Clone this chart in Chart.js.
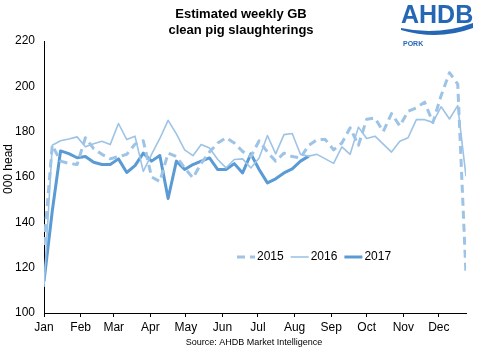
<!DOCTYPE html>
<html>
<head>
<meta charset="utf-8">
<script src="https://cdn.jsdelivr.net/npm/chart.js@4.4.1/dist/chart.umd.min.js"></script>
<style>
  html, body { margin: 0; padding: 0; background: #fff; }
  #wrap { width: 484px; height: 360px; }
</style>
</head>
<body>
<div id="wrap"><canvas id="chart" width="484" height="360"></canvas></div>
<script>
// week-by-week values, '000 head
const months = ["Jan", "Feb", "Mar", "Apr", "May", "Jun", "Jul", "Aug", "Sep", "Oct", "Nov", "Dec"];
const monthStartDay = [0, 31, 59, 90, 120, 151, 181, 212, 243, 273, 304, 334];
const years = ["2015", "2016", "2017"];
const s2015 = [130, 174, 167, 166, 165.5, 177.3, 172.5, 170, 168, 169, 170, 174.5, 176, 160, 158, 170.5,
  169, 164, 159.6, 166, 171, 175, 177.3, 175, 171.3, 169, 176, 171, 167, 170.5, 169, 168.5, 174, 176.5,
  176.5, 172, 175, 181.7, 174, 185.5, 186, 180, 188, 182.5, 189, 190.5, 193, 184, 196, 206, 201, 117];
const s2016 = [111.5, 174, 176, 176.8, 177.7, 173.3, 174.7, 175.8, 174.3, 183.6, 176.5, 178, 162.5, 170,
  177, 185, 179, 172, 169.4, 174.3, 172.8, 167.7, 164, 167.7, 168, 164, 168.4, 178.3, 170.2, 178.7, 179.2,
  169.9, 169.2, 170, 168, 166, 173.3, 170, 182, 177, 178, 174.5, 171, 175.8, 177.3, 185.3, 185.3, 184.1,
  191, 185.6, 191.5, 160.3];
const s2017 = [114, 145, 171.5, 170.3, 168.5, 169, 166.5, 165.5, 165.5, 168, 162, 165, 170.5, 167, 169.5,
  150.5, 167, 163.3, 165.5, 167, 168.4, 163.3, 163.3, 165.9, 161.8, 170.2, 163.3, 157.4, 159.2, 161.8,
  163.6, 167, 169.2];

const titleLines = ["Estimated weekly GB", "clean pig slaughterings"];
const yTitle = "000 head";
const source = "Source: AHDB Market Intelligence";

const family = "'Liberation Sans', Arial, sans-serif";
Chart.defaults.font.family = family;
Chart.defaults.color = "#000";

// week n starts on day n*7
const toPoints = arr => arr.map((v, i) => ({ x: i * 7, y: v }));

const decor = {
  id: "decor",
  afterDraw(chart) {
    const c = chart.ctx;
    c.save();
    c.fillStyle = "#000";
    c.textAlign = "center";
    c.textBaseline = "alphabetic";
    c.font = "bold 13px " + family;
    c.fillText(titleLines[0], 241, 18);
    c.fillText(titleLines[1], 241, 34);

    c.save();
    c.translate(12, 169);
    c.rotate(-Math.PI / 2);
    c.font = "12px " + family;
    c.fillText(yTitle, 0, 0);
    c.restore();

    c.font = "9px " + family;
    c.fillText(source, 254, 345);

    // logo
    c.fillStyle = "#2567B5";
    c.textAlign = "left";
    c.font = "bold 25px " + family;
    c.fillText("AHDB", 401, 23);
    c.beginPath();
    c.moveTo(401, 28);
    c.quadraticCurveTo(438, 36, 473, 23);
    c.lineTo(473, 28);
    c.quadraticCurveTo(438, 41, 401, 30);
    c.closePath();
    c.fill();
    c.font = "bold 7px " + family;
    c.fillText("PORK", 403, 46);

    // legend
    let x = 237;
    const y = 257;
    c.font = "12px " + family;
    c.textBaseline = "middle";
    chart.data.datasets.forEach(ds => {
      c.save();
      c.strokeStyle = ds.borderColor;
      c.lineWidth = ds.borderWidth;
      c.setLineDash(ds.borderDash || []);
      c.beginPath();
      c.moveTo(x, y);
      c.lineTo(x + 18, y);
      c.stroke();
      c.restore();
      c.fillStyle = "#000";
      c.fillText(ds.label, x + 20, y);
      x += 20 + c.measureText(ds.label).width + 7;
    });
    c.restore();
  }
};

new Chart(document.getElementById("chart"), {
  type: "line",
  data: {
    datasets: [
      { label: years[0], data: toPoints(s2015), borderColor: "#9DC3E6", borderWidth: 3, borderDash: [8, 5] },
      { label: years[1], data: toPoints(s2016), borderColor: "#9DC3E6", borderWidth: 1.6 },
      { label: years[2], data: toPoints(s2017), borderColor: "#5B9BD5", borderWidth: 3 }
    ]
  },
  options: {
    responsive: false,
    animation: false,
    layout: { padding: { top: 41, right: 18, left: 0, bottom: 0 } },
    elements: { point: { radius: 0 }, line: { tension: 0, borderJoinStyle: "round" } },
    plugins: { legend: { display: false }, tooltip: { enabled: false } },
    scales: {
      x: {
        type: "linear", min: 0, max: 357,
        afterBuildTicks: s => { s.ticks = monthStartDay.map(d => ({ value: d })); },
        ticks: {
          callback: (v, i) => months[i], autoSkip: false, maxRotation: 0,
          font: { size: 12 }, padding: 3
        },
        grid: { drawOnChartArea: false, tickLength: 4, color: "#000" },
        border: { color: "#000", width: 1 },
        afterFit: s => { s.height = 47; }
      },
      y: {
        min: 100, max: 220,
        ticks: { stepSize: 20, font: { size: 12 }, padding: 9 },
        grid: { drawOnChartArea: false, drawTicks: false, color: "#000" },
        border: { color: "#000", width: 1 },
        afterFit: s => { s.width = 44; }
      }
    }
  },
  plugins: [decor]
});
</script>
</body>
</html>
